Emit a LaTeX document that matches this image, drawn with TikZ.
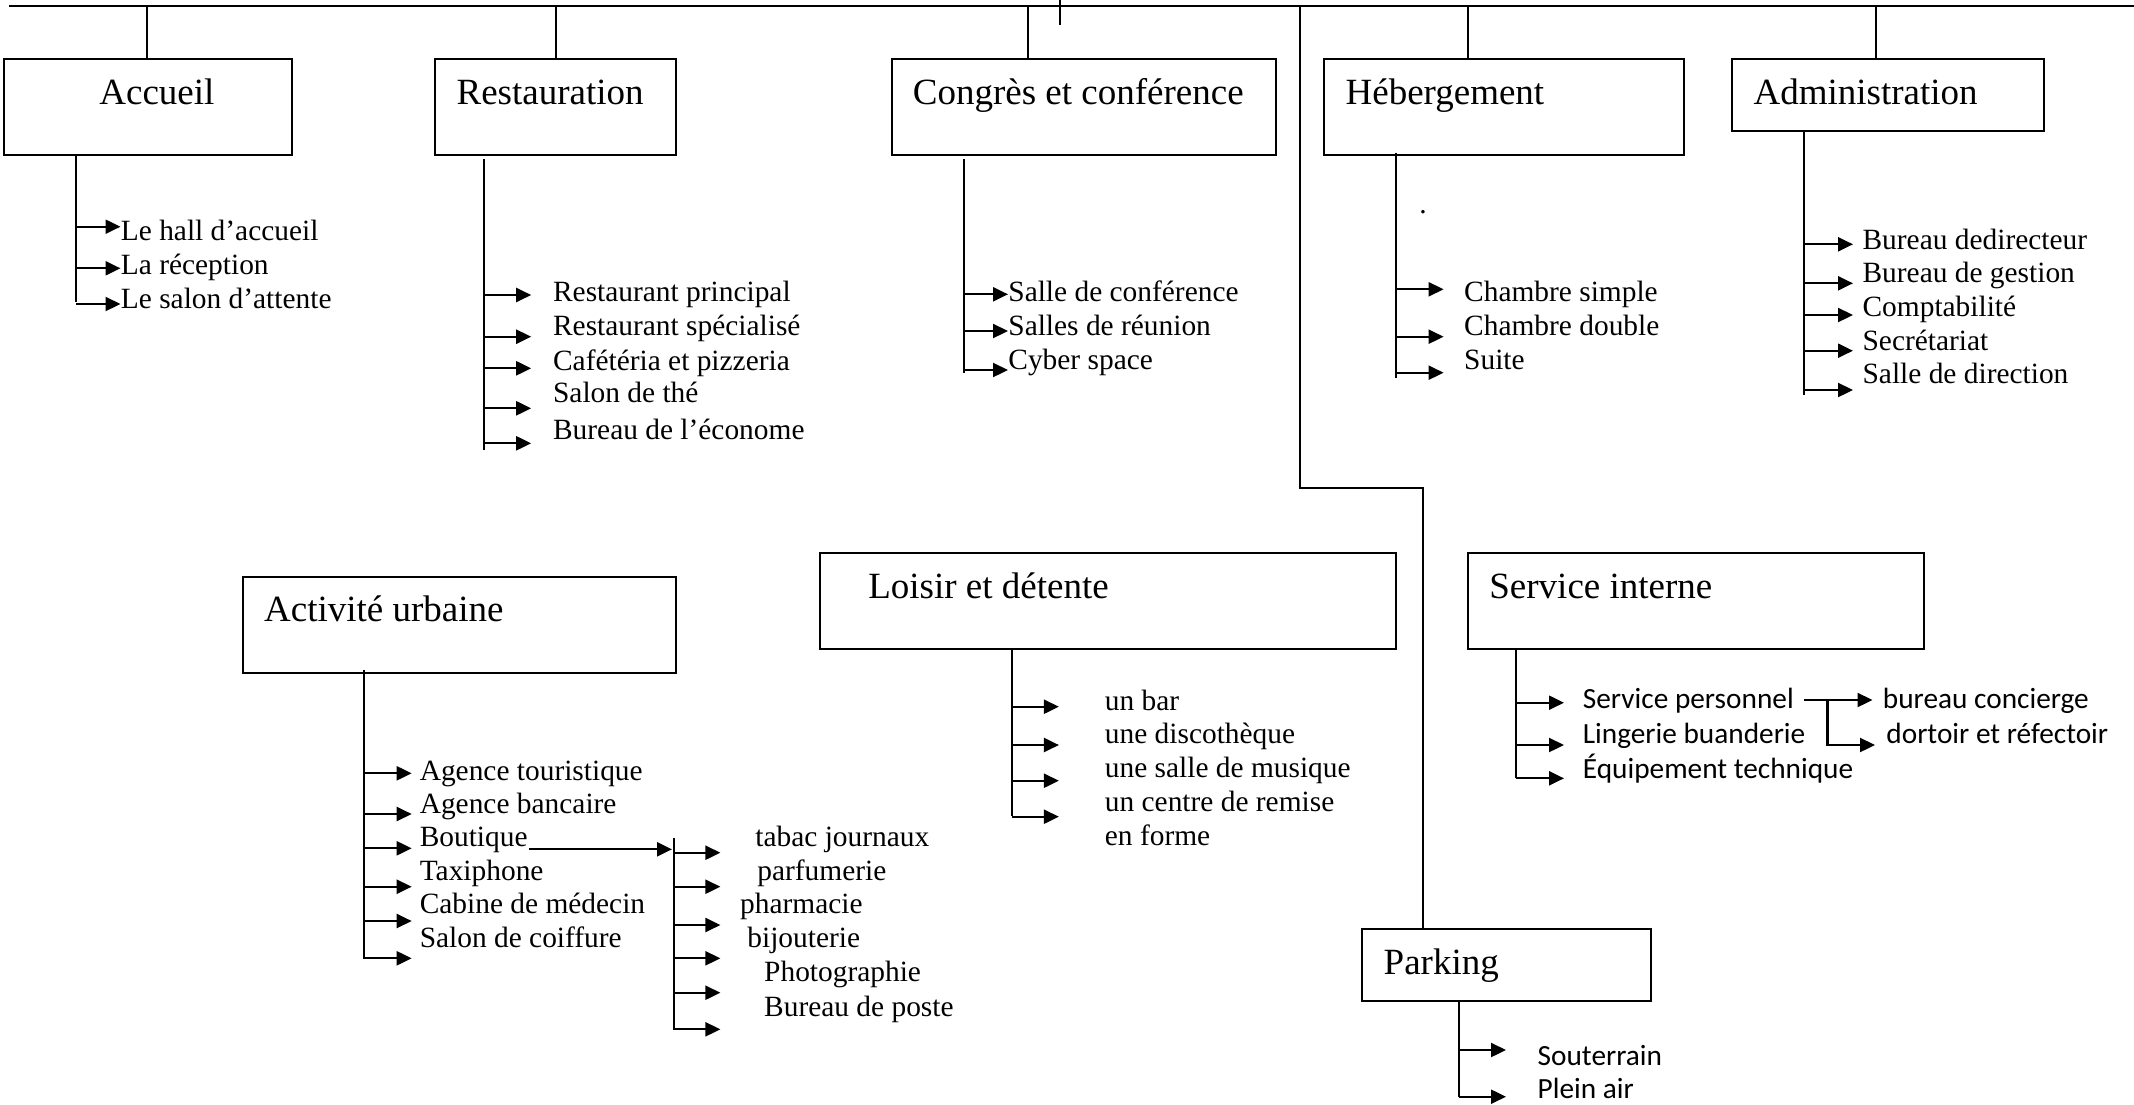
\documentclass[tikz,border=0pt]{standalone}
\usepackage{fontspec}
\setmainfont{Liberation Serif}
\newfontfamily\calfont{Carlito}
\usetikzlibrary{arrows.meta,fit}
\begin{document}
\begin{tikzpicture}[x=0.5pt,y=-0.5pt,
  box/.style={draw,line width=1pt,inner sep=0pt},
  ttl/.style={anchor=base west,inner sep=0pt,font=\fontsize{18.5}{22}\selectfont},
  itm/.style={anchor=base west,inner sep=0pt,font=\fontsize{14.7}{17}\selectfont},
  sitm/.style={anchor=base west,inner sep=0pt,font=\calfont\fontsize{14.65}{17}\selectfont},
  ln/.style={line width=1pt},
  arr/.style={line width=1.1pt,-{Triangle[length=7.5pt,width=7pt]}},
]
\useasboundingbox[fill=white] (0,0) rectangle (2134,1104);

% top line and tick
\coordinate (L) at (9,6);
\coordinate (R) at (2134,6);
\coordinate (tk) at (1059.8,0);
\draw[ln] (L) -- (R);
\draw[ln] (tk) -- ++(0,25);

% boxes
\node[box,fit={(3.6,59.3) (292,155)}] (accueil) {};
\node[box,fit={(435.3,59.3) (676.3,155)}] (restau) {};
\node[box,fit={(892,59.3) (1276,155)}] (congres) {};
\node[box,fit={(1324,59.3) (1684,155)}] (heberg) {};
\node[box,fit={(1732,59.3) (2043.6,130.7)}] (admin) {};
\node[box,fit={(243.4,576.7) (676,673.3)}] (activite) {};
\node[box,fit={(820,552.7) (1396,649)}] (loisir) {};
\node[box,fit={(1467.5,552.7) (1924,649)}] (service) {};
\node[box,fit={(1362.3,929.3) (1651,1001)}] (parking) {};

% titles
\node[ttl] (taccueil) at (99,104) {Accueil};
\node[ttl] (trestau) at (456.2,104) {Restauration};
\node[ttl] (tcongres) at (912.5,104) {Congrès et conférence};
\node[ttl] (theberg) at (1345.2,104) {Hébergement};
\node[ttl] (tadmin) at (1753.2,104) {Administration};
\node[ttl] (tactivite) at (263.8,621.7) {Activité urbaine};
\node[ttl] (tloisir) at (867.9,598.3) {Loisir et détente};
\node[ttl] (tservice) at (1489,598.3) {Service interne};
\node[ttl] (tparking) at (1383.3,974) {Parking};

% drops from the top line
\coordinate (d1) at (147.3,6);
\coordinate (d2) at (555.8,6);
\coordinate (d3) at (1028,6);
\coordinate (d4) at (1468,6);
\coordinate (d5) at (1876,6);
\draw[ln] (d1) -- (d1 |- accueil.north);
\draw[ln] (d2) -- (d2 |- restau.north);
\draw[ln] (d3) -- (d3 |- congres.north);
\draw[ln] (d4) -- (d4 |- heberg.north);
\draw[ln] (d5) -- (d5 |- admin.north);

% long line to parking
\coordinate (d6) at (1300,6);
\coordinate (c6) at (1300,488);
\coordinate (c7) at (1422.7,488);
\draw[ln] (d6) -- (c6) -- (c7) -- (c7 |- parking.north);

% stems
\draw[ln] (75.9,155) -- (75.9,301.7);
\draw[ln] (483.5,159.3) -- (483.5,450);
\draw[ln] (963.8,159.3) -- (963.8,373.3);
\draw[ln] (1396.3,152.7) -- (1396.3,378.3);
\draw[ln] (1804.2,130.7) -- (1804.2,395);
\draw[ln] (364.3,670) -- (364.3,959.3);
\draw[ln] (673.5,838.3) -- (673.5,1030);
\draw[ln] (1012,649) -- (1012,816);
\draw[ln] (1516,649) -- (1516,778.3);
\draw[ln] (1458.7,1001) -- (1458.7,1097.3);

% arrows
\foreach \y in {226.7,268.3,304} \draw[arr] (75.9,\y) -- (120.5,\y);
\foreach \y in {295,336.7,368.3,408.3,443.3} \draw[arr] (483.5,\y) -- (531.2,\y);
\foreach \y in {294.3,331,370} \draw[arr] (963.8,\y) -- (1008,\y);
\foreach \y in {289.3,336.7,372.7} \draw[arr] (1396.3,\y) -- (1443.6,\y);
\foreach \y in {244.3,283.3,315,350.7,390} \draw[arr] (1804.2,\y) -- (1853,\y);
\foreach \y in {773.3,814,848.3,886.7,921,958.3} \draw[arr] (364.3,\y) -- (411.7,\y);
\foreach \y in {852.7,886.7,925,958.3,992.7,1029.3} \draw[arr] (673.5,\y) -- (720.4,\y);
\foreach \y in {706.7,745,780.7,816.7} \draw[arr] (1012,\y) -- (1058.9,\y);
\foreach \y in {702.7,745,778.3} \draw[arr] (1516,\y) -- (1564,\y);
\foreach \y in {1050,1096.7} \draw[arr] (1458.7,\y) -- (1506,\y);

% items
\foreach \t/\y [count=\i] in {Le hall d’accueil/240.5,La réception/274.5,Le salon d’attente/308.5}
  \node[itm] (a\i) at (120.5,\y) {\t};
\foreach \t/\y [count=\i] in {Restaurant principal/301.7,Restaurant spécialisé/335,Cafétéria et pizzeria/370,Salon de thé/402.7,Bureau de l’économe/439.3}
  \node[itm] (r\i) at (552.7,\y) {\t};
\foreach \t/\y [count=\i] in {Salle de conférence/301.7,Salles de réunion/335,Cyber space/369.3}
  \node[itm] (c\i) at (1008,\y) {\t};
\node[itm] (hdot) at (1419,213) {.};
\foreach \t/\y [count=\i] in {Chambre simple/301.7,Chambre double/335,Suite/369.3}
  \node[itm] (h\i) at (1463.8,\y) {\t};
\foreach \t/\y [count=\i] in {Bureau dedirecteur/249.3,Bureau de gestion/282.7,Comptabilité/316,Secrétariat/350,Salle de direction/383.3}
  \node[itm] (ad\i) at (1862.2,\y) {\t};
\foreach \t/\y [count=\i] in {Agence touristique/780,Agence bancaire/813.3,Boutique/846.7,Taxiphone/880.7,Cabine de médecin/913.3,Salon de coiffure/947.3}
  \node[itm] (u\i) at (419.4,\y) {\t};
\foreach \t/\x/\y [count=\i] in {tabac journaux/755/846.7,parfumerie/757/880.7,pharmacie/739.8/913.3,bijouterie/747/947.3,Photographie/763.8/981.7,Bureau de poste/763.8/1016}
  \node[itm] (b\i) at (\x,\y) {\t};
\foreach \t/\y [count=\i] in {un bar/710,une discothèque/743.3,une salle de musique/777.3,un centre de remise/811.7,en forme/845}
  \node[itm] (l\i) at (1104.5,\y) {\t};
\foreach \t/\y [count=\i] in {Service personnel/708.3,Lingerie buanderie/743.3,Équipement technique/778.3}
  \node[sitm] (s\i) at (1582.5,\y) {\t};
\node[sitm] (sb1) at (1882.5,708.3) {bureau concierge};
\node[sitm] (sb2) at (1886,743.3) {dortoir et réfectoir};
\foreach \t/\y [count=\i] in {Souterrain/1065,Plein air/1098.3}
  \node[sitm] (p\i) at (1537.3,\y) {\t};

% boutique branch
\coordinate (bq) at (529,849.3);
\draw[arr] (bq) -- (672,849.3);

% service personnel branch
\coordinate (sp) at (1804,700);
\coordinate (sj) at (1827.5,700);
\draw[arr] (sp) -- (1872.5,700);
\draw[arr] (sj) -- (1827.5,745) -- (1875,745);
\end{tikzpicture}
\end{document}
